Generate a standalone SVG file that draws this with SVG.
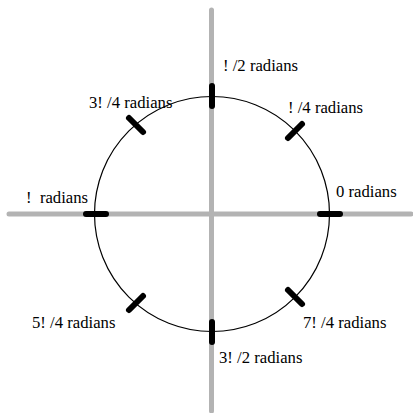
<svg xmlns="http://www.w3.org/2000/svg" width="413" height="413" viewBox="0 0 413 413">
<style>
.axis{stroke:#b3b3b3;stroke-width:5;stroke-linecap:round;fill:none}
.circ{stroke:#000;stroke-width:1.2;fill:none}
.tick{stroke:#000;stroke-width:6;stroke-linecap:round}
.lbl{font-family:'Liberation Serif','Times New Roman',Times,serif;font-size:16.7px;fill:#000}
</style>
<rect width="413" height="413" fill="#fff"/>
<g id="axes">
<line class="axis" x1="9" y1="214" x2="411" y2="214"/>
<line class="axis" x1="211.5" y1="10" x2="211.5" y2="411"/>
</g>
<g id="circle"><circle class="circ" cx="212" cy="214" r="117.5"/></g>
<g id="ticks">
<line class="tick" x1="320" y1="214" x2="340" y2="214"/>
<line class="tick" x1="86" y1="214" x2="106" y2="214"/>
<line class="tick" x1="212" y1="86" x2="212" y2="106"/>
<line class="tick" x1="212" y1="322" x2="212" y2="342"/>
<line class="tick" x1="288" y1="138" x2="302" y2="124"/>
<line class="tick" x1="129" y1="118" x2="143" y2="132"/>
<line class="tick" x1="129" y1="310" x2="143" y2="296"/>
<line class="tick" x1="288" y1="290" x2="302" y2="304"/>
</g>
<g id="labels" class="lbl" font-family="Liberation Serif, serif">
<text x="223" y="71" xml:space="preserve">! /2 radians</text>
<text x="288" y="113" xml:space="preserve">! /4 radians</text>
<text x="89" y="108" xml:space="preserve">3! /4 radians</text>
<text x="26" y="203" xml:space="preserve">!  radians</text>
<text x="336" y="197">0 radians</text>
<text x="32" y="328" xml:space="preserve">5! /4 radians</text>
<text x="303" y="328" xml:space="preserve">7! /4 radians</text>
<text x="219" y="363" xml:space="preserve">3! /2 radians</text>
</g>
</svg>
